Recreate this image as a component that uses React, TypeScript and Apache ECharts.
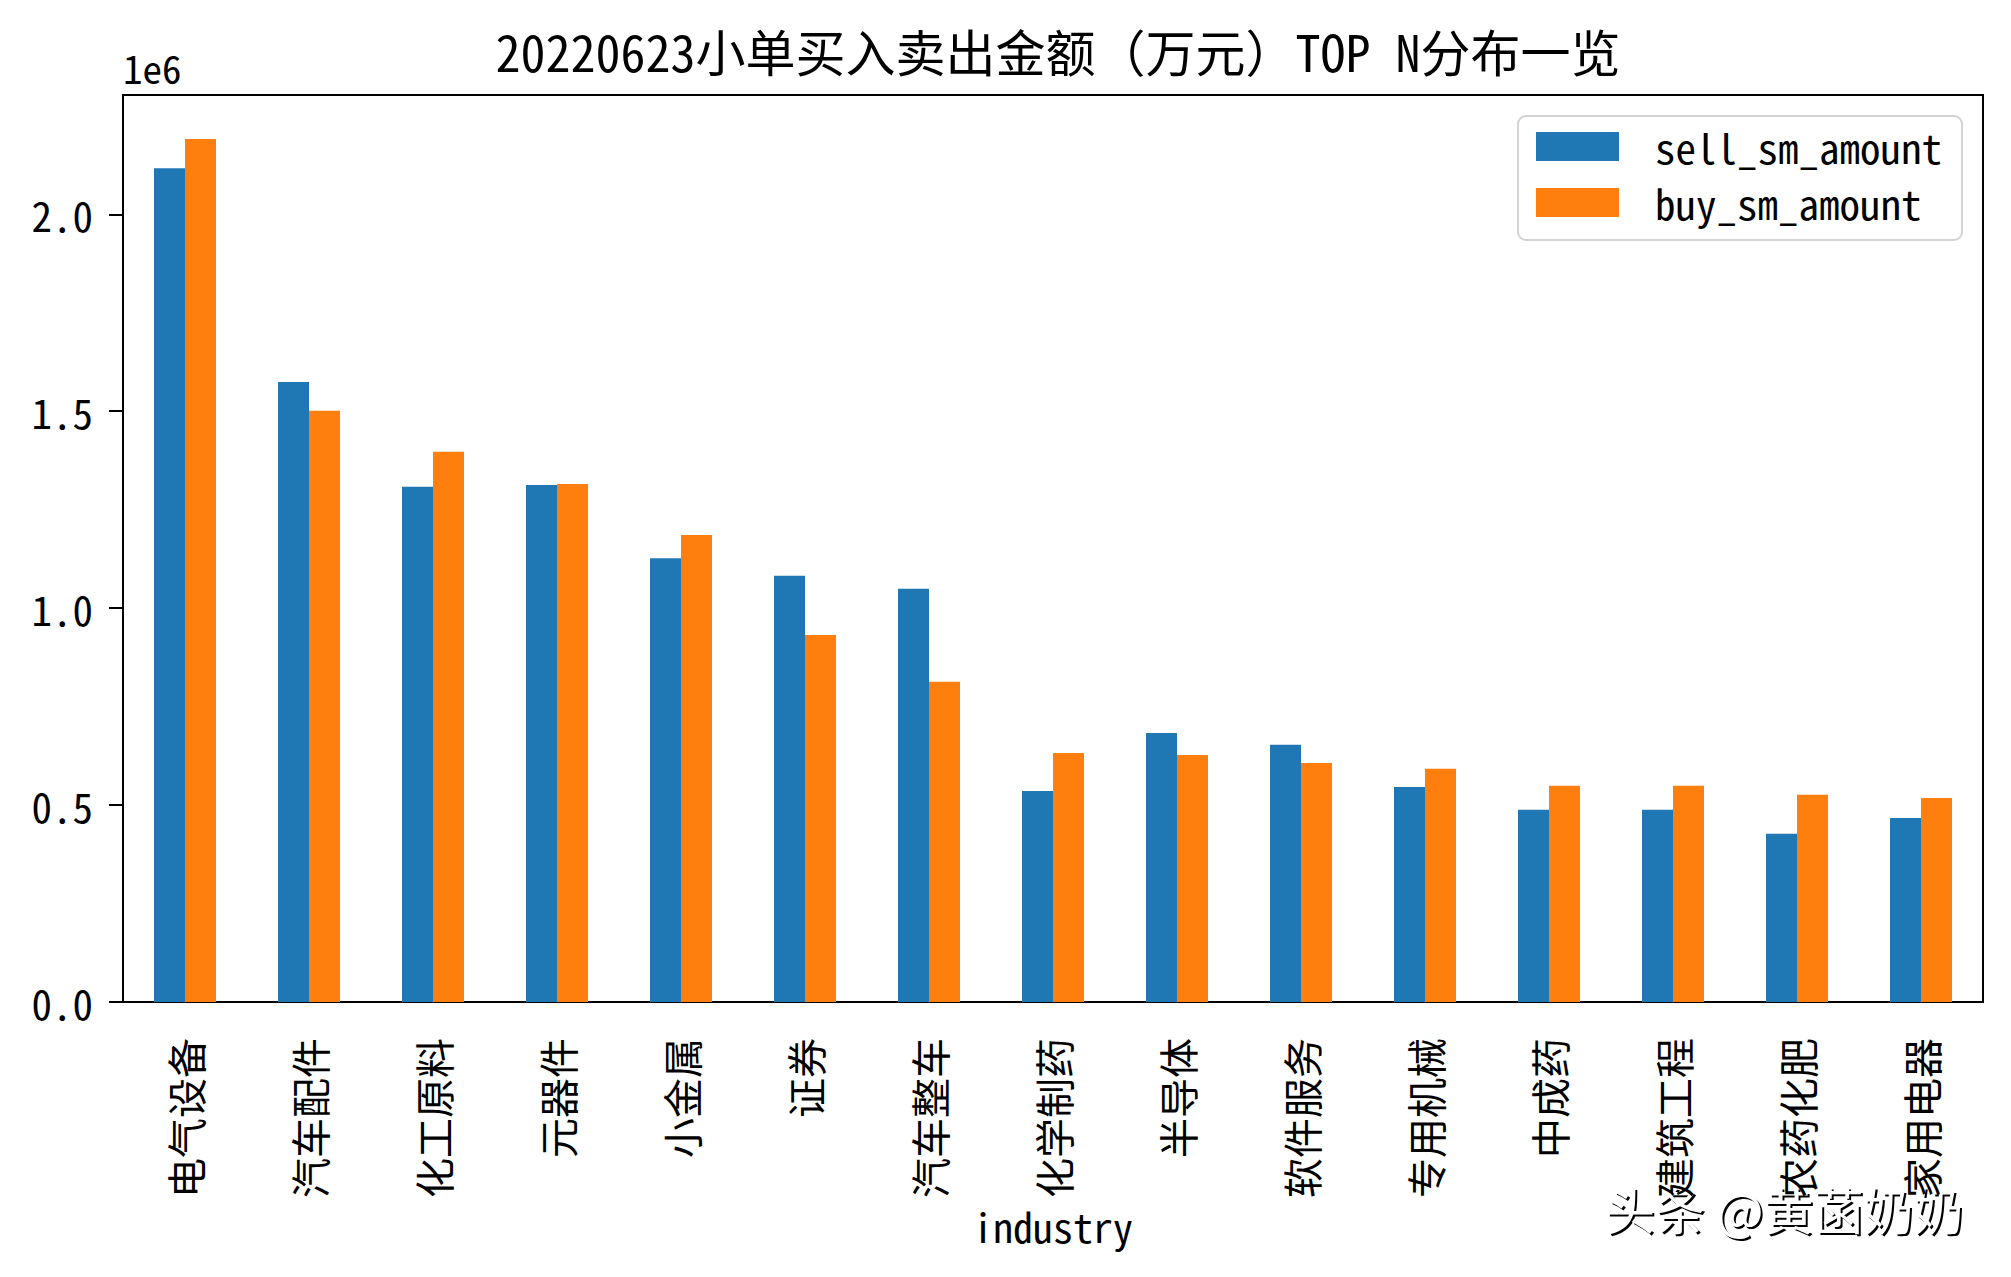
import React, { useEffect, useRef } from "react";
import * as echarts from "echarts";

const categories = [
  "电气设备", "汽车配件", "化工原料", "元器件", "小金属", "证券", "汽车整车",
  "化学制药", "半导体", "软件服务", "专用机械", "中成药", "建筑工程", "农药化肥", "家用电器",
];
const sellSmAmount = [
  2117000, 1574000, 1308000, 1313000, 1127000, 1082000, 1049000,
  536000, 683000, 653000, 546000, 488000, 488000, 427000, 467000,
];
const buySmAmount = [
  2191000, 1501000, 1397000, 1315000, 1186000, 932000, 813000,
  632000, 627000, 607000, 592000, 549000, 549000, 526000, 518000,
];
const seriesNames = ["sell_sm_amount", "buy_sm_amount"];
const titleText = "20220623小单买入卖出金额（万元）TOP N分布一览";
const watermark = "头条 @黄菡奶奶";

const FONT = "'Noto Sans Mono CJK SC', 'Noto Sans CJK SC', 'Liberation Mono', monospace";
const WM_FONT = "'Noto Sans CJK SC', sans-serif";

export default function App() {
  const ref = useRef<HTMLDivElement>(null);
  useEffect(() => {
    if (!ref.current) return;
    const chart = echarts.init(ref.current, undefined, { renderer: "svg" });
    chart.setOption({
      animation: false,
      backgroundColor: "#ffffff",
      textStyle: { fontFamily: FONT },
      title: {
        text: titleText,
        left: 1053,
        top: 20,
        textAlign: "center",
        textStyle: { fontFamily: FONT, fontSize: 50, fontWeight: "normal", color: "#000" },
      },
      legend: {
        orient: "vertical",
        left: 1518,
        top: 116,
        icon: "rect",
        itemWidth: 83,
        itemHeight: 29,
        itemGap: 15,
        padding: [10, 20, 17, 18],
        borderColor: "#d3d3d3",
        borderWidth: 2,
        borderRadius: 8,
        backgroundColor: "rgba(255,255,255,0.8)",
        textStyle: { fontFamily: FONT, fontSize: 41, color: "#000", padding: [0, 0, 0, 31] },
        data: seriesNames,
      },
      grid: {
        left: 123,
        right: 28,
        top: 95,
        bottom: 275,
        show: true,
        borderColor: "#000",
        borderWidth: 2,
        containLabel: false,
      },
      xAxis: {
        type: "category",
        data: categories,
        name: "industry",
        nameLocation: "middle",
        nameGap: 224,
        nameTextStyle: { fontFamily: FONT, fontSize: 40, color: "#000", verticalAlign: "middle" },
        axisLine: { lineStyle: { color: "#000", width: 2 } },
        axisTick: { alignWithLabel: true, length: 14, lineStyle: { color: "#000", width: 2 } },
        axisLabel: { rotate: 90, margin: 36, fontFamily: FONT, fontSize: 40, color: "#000", interval: 0 },
        splitLine: { show: false },
      },
      yAxis: {
        type: "value",
        min: 0,
        max: 2303000,
        interval: 500000,
        name: "1e6",
        nameLocation: "end",
        nameGap: 28,
        nameTextStyle: { fontFamily: FONT, fontSize: 39, color: "#000", align: "left", verticalAlign: "middle" },
        axisLine: { show: true, lineStyle: { color: "#000", width: 2 } },
        axisTick: { show: true, length: 14, lineStyle: { color: "#000", width: 2 } },
        axisLabel: {
          margin: 30,
          fontFamily: FONT,
          fontSize: 41,
          color: "#000",
          showMaxLabel: false,
          formatter: (v: number) => (v / 1e6).toFixed(1),
        },
        splitLine: { show: false },
      },
      series: [
        {
          name: seriesNames[0],
          type: "bar",
          data: sellSmAmount,
          barWidth: "25%",
          barGap: "0%",
          itemStyle: { color: "#1f77b4" },
        },
        {
          name: seriesNames[1],
          type: "bar",
          data: buySmAmount,
          barWidth: "25%",
          barGap: "0%",
          itemStyle: { color: "#ff7f0e" },
        },
      ],
      graphic: [
        {
          type: "group",
          left: 1605,
          top: 1183,
          z: 100,
          children: [
            {
              type: "text",
              x: 2,
              y: 2,
              style: { text: watermark, fontFamily: WM_FONT, fontSize: 50, fill: "#000000" },
            },
            {
              type: "text",
              x: 0,
              y: 0,
              style: { text: watermark, fontFamily: WM_FONT, fontSize: 50, fill: "#ffffff" },
            },
          ],
        },
      ],
    });
    return () => chart.dispose();
  }, []);
  return (
    <div
      ref={ref}
      style={{ position: "absolute", left: 0, top: 0, width: 2011, height: 1277, background: "#fff" }}
    />
  );
}
